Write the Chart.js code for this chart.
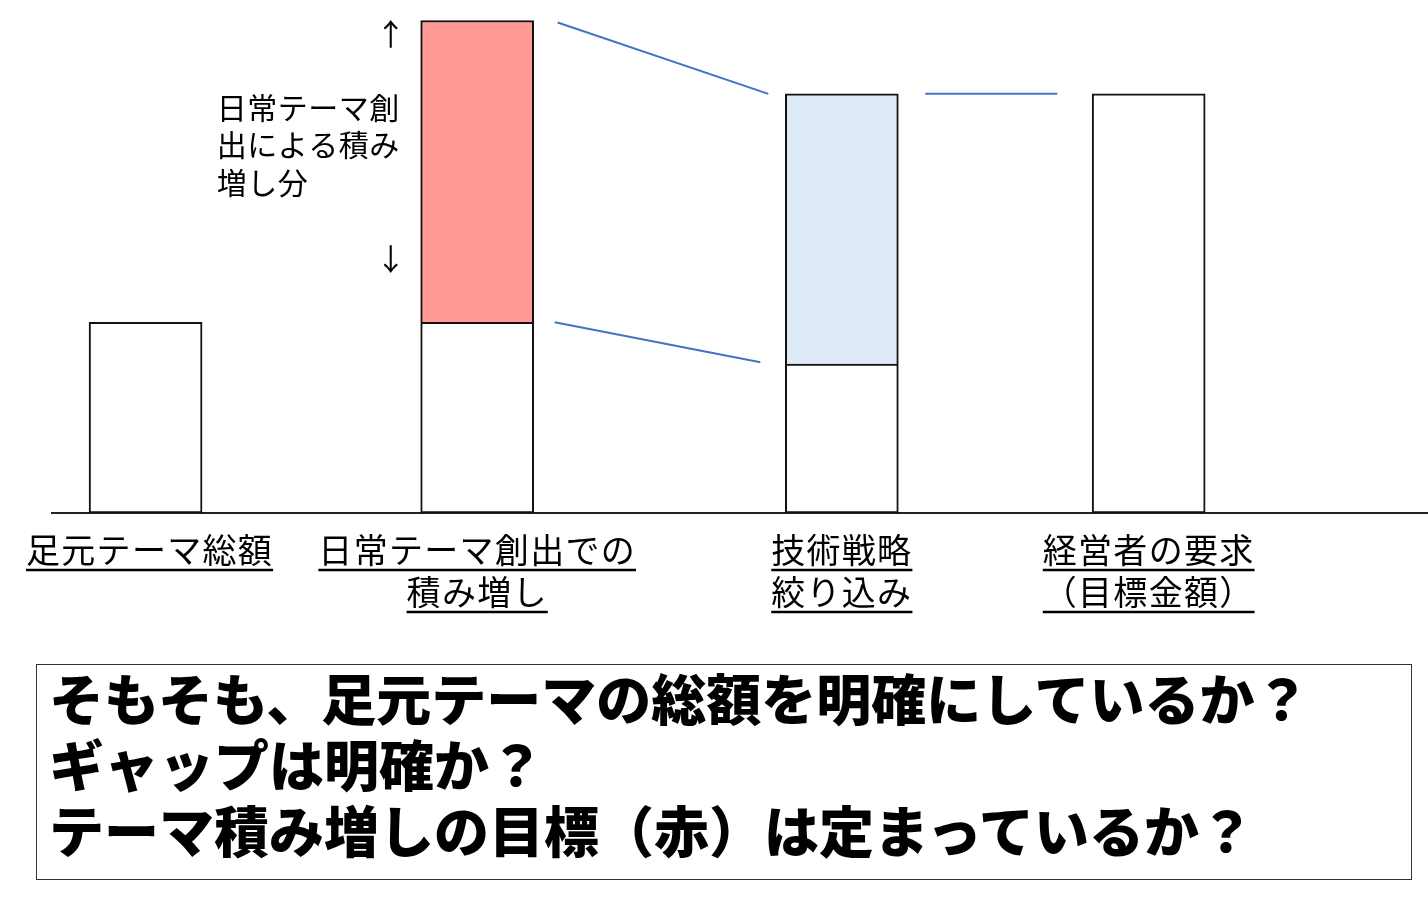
<!DOCTYPE html>
<html lang="ja">
<head>
<meta charset="utf-8">
<title>テーマ積み増しのギャップ</title>
<script src="https://cdn.jsdelivr.net/npm/chart.js@4/dist/chart.umd.min.js"></script>
<style>
  html, body { margin: 0; padding: 0; background: #fff; }
  #wrap { position: relative; width: 1428px; height: 897px; overflow: hidden; }
  #wrap canvas { position: absolute; left: 0; top: 0; }
  #note {
    position: absolute; left: 36px; top: 664px;
    width: 1376px; height: 216px; box-sizing: border-box;
    border: 1.5px solid #333;
    padding: 0 0 0 12px;
    font-family: 'Noto Sans CJK JP', sans-serif;
    font-weight: 900; font-size: 55px; line-height: 66px;
    color: #000; white-space: nowrap;
  }
  #note div { position: relative; top: -2px; }
</style>
</head>
<body>
<div id="wrap">
  <canvas id="gapChart" width="1428" height="897"></canvas>
  <div id="note">
    <div>そもそも、足元テーマの総額を明確にしているか？</div>
    <div>ギャップは明確か？</div>
    <div>テーマ積み増しの目標（赤）は定まっているか？</div>
  </div>
</div>
<script>
// カテゴリ（下の下線付きラベル）
const categories = [
  ['足元テーマ総額'],
  ['日常テーマ創出での', '積み増し'],
  ['技術戦略', '絞り込み'],
  ['経営者の要求', '（目標金額）']
];
// 横軸上の位置（カテゴリ間隔は等間隔ではない）
const slotX = [0.68, 3.09, 5.74, 7.97];
// 白い部分（ベース）
const baseValues = [45.5, 45.5, 35.5, 100];
// 赤：日常テーマ創出による積み増し分
const gainValues = [null, 72, null, null];
// 青：技術戦略で絞り込んだ分
const focusValues = [null, null, 64.5, null];
const noteLines = ['日常テーマ創', '出による積み', '増し分'];

const FONT = "'Noto Sans CJK JP', sans-serif";
Chart.defaults.font.family = FONT;

const toPoints = vals => slotX.map((x, i) => ({ x, y: vals[i] }));

function line(ctx, x1, y1, x2, y2) {
  ctx.beginPath();
  ctx.moveTo(x1, y1);
  ctx.lineTo(x2, y2);
  ctx.stroke();
}

// 連結線・注記・カテゴリラベルを描く
const overlay = {
  id: 'overlay',
  afterDatasetsDraw(chart) {
    const ctx = chart.ctx;
    const y = chart.scales.y;
    const bars = chart.getDatasetMeta(0).data;
    const half = bars[0].width / 2;
    const total = i => baseValues[i] + (gainValues[i] || 0) + (focusValues[i] || 0);
    const topPx = i => y.getPixelForValue(total(i));
    const basePx = i => y.getPixelForValue(baseValues[i]);

    ctx.save();
    ctx.strokeStyle = '#4472C4';
    ctx.lineWidth = 2;
    line(ctx, bars[1].x + half + 24, topPx(1) + 2, bars[2].x - half - 17, topPx(2));
    line(ctx, bars[1].x + half + 21, basePx(1), bars[2].x - half - 25, basePx(2) - 2);
    line(ctx, bars[2].x + half + 27, topPx(2), bars[3].x - half - 35, topPx(3));

    // 注記（矢印と説明）
    ctx.fillStyle = '#000';
    const ax = bars[1].x - half - 30;
    ctx.font = '30px ' + FONT;
    ctx.textAlign = 'center';
    ctx.textBaseline = 'middle';
    ctx.fillText('↑', ax, topPx(1) + 13);
    ctx.fillText('↓', ax, basePx(1) - 64);

    ctx.textAlign = 'left';
    ctx.textBaseline = 'ideographic';
    ctx.letterSpacing = '0.5px';
    const tx = bars[1].x - half - 204;
    noteLines.forEach((t, k) => {
      ctx.fillText(t, tx, topPx(1) + 102 + k * 37.5);
    });

    // カテゴリラベル（下線付き）
    ctx.font = '34px ' + FONT;
    ctx.letterSpacing = '1.3px';
    ctx.textAlign = 'center';
    ctx.strokeStyle = '#000';
    ctx.lineWidth = 2.5;
    const ulY = [570, 612];
    categories.forEach((lines, i) => {
      lines.forEach((t, k) => {
        const cx = bars[i].x + (i === 0 ? 4 : 0);
        ctx.fillText(t, cx, ulY[k] - 3);
        const w = ctx.measureText(t).width;
        line(ctx, cx - w / 2, ulY[k], cx + w / 2, ulY[k]);
      });
    });
    ctx.restore();
  }
};

const barStyle = {
  borderColor: '#111',
  borderWidth: 2,
  barThickness: 113,
  stack: 'one'
};

new Chart(document.getElementById('gapChart'), {
  type: 'bar',
  data: {
    datasets: [
      { label: 'ベース', data: toPoints(baseValues), backgroundColor: '#ffffff', borderSkipped: false, ...barStyle },
      { label: '積み増し分', data: toPoints(gainValues), backgroundColor: '#FF9A94', borderSkipped: 'start', ...barStyle },
      { label: '絞り込み', data: toPoints(focusValues), backgroundColor: '#DEEBF7', borderSkipped: 'start', ...barStyle }
    ]
  },
  options: {
    responsive: false,
    animation: false,
    layout: { padding: { left: 52, right: 0, top: 10, bottom: 384 } },
    plugins: {
      legend: { display: false },
      tooltip: { enabled: false }
    },
    scales: {
      x: {
        type: 'linear',
        min: 0,
        max: 10,
        offset: false,
        grid: { display: false, drawTicks: false },
        ticks: { display: false },
        border: { display: true, color: '#222', width: 2 }
      },
      y: {
        display: false,
        stacked: true,
        min: 0,
        max: 120
      }
    }
  },
  plugins: [overlay]
});
</script>
</body>
</html>
